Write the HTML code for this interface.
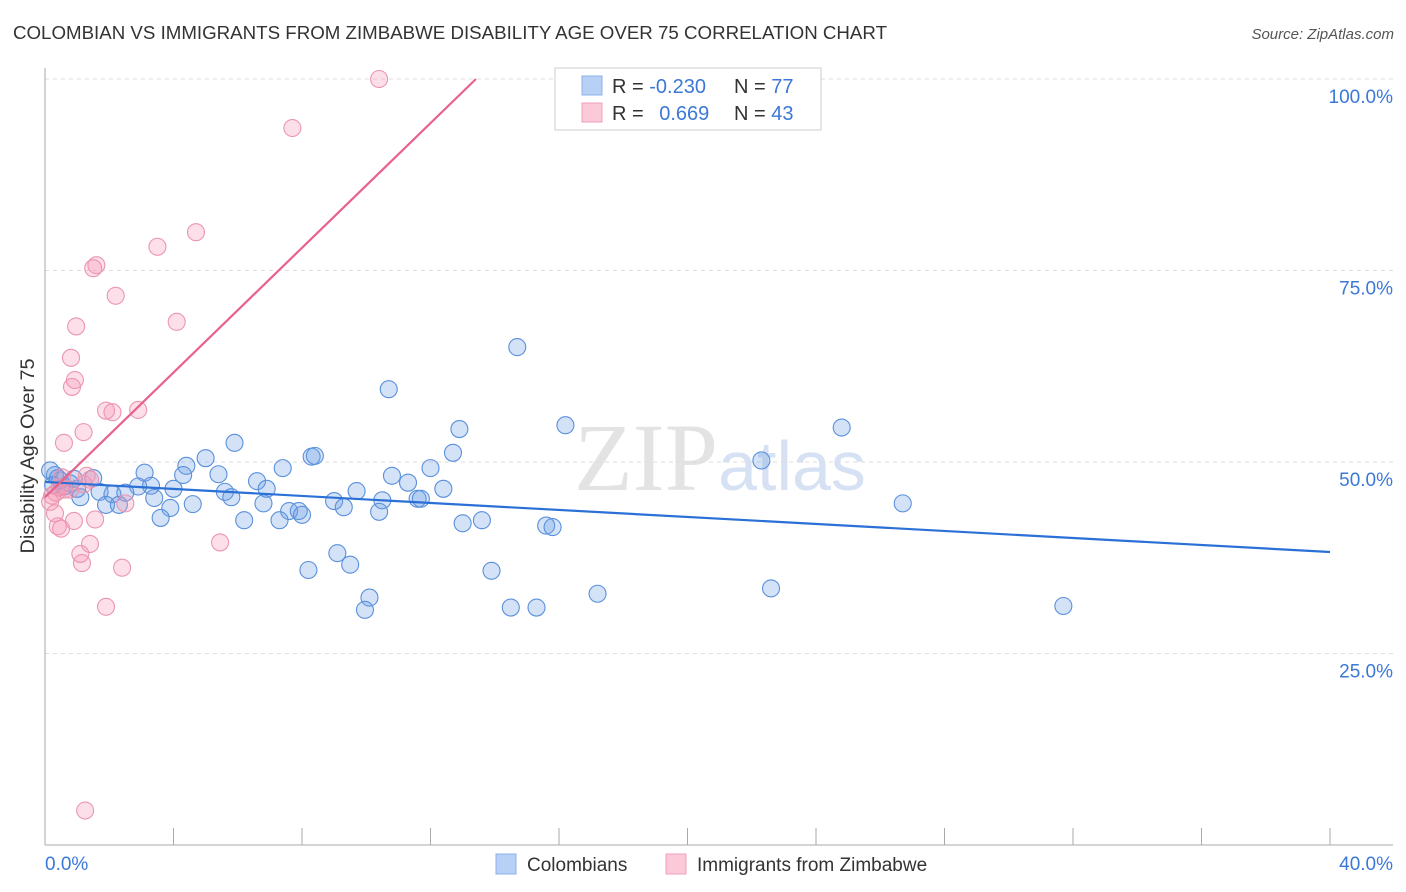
<!DOCTYPE html>
<html><head><meta charset="utf-8"><style>
body{margin:0;background:#fff;font-family:"Liberation Sans",sans-serif}
svg{display:block}
</style></head><body>
<svg id="chart" width="1406" height="892" xmlns="http://www.w3.org/2000/svg">
<text x="13" y="39" font-size="18" fill="#333" textLength="874" lengthAdjust="spacingAndGlyphs">COLOMBIAN VS IMMIGRANTS FROM ZIMBABWE DISABILITY AGE OVER 75 CORRELATION CHART</text>
<text x="1394" y="39" font-size="15" fill="#555" font-style="italic" text-anchor="end">Source: ZipAtlas.com</text>
<text x="720" y="490" font-size="96" text-anchor="middle" fill="#d8d8d8" font-family="Liberation Serif, serif" opacity="0.7">ZIP<tspan fill="#c5d6ee" font-family="Liberation Sans, sans-serif" font-size="70">atlas</tspan></text>
<text transform="translate(34,456) rotate(-90)" font-size="19" fill="#333" text-anchor="middle" textLength="195" lengthAdjust="spacingAndGlyphs">Disability Age Over 75</text>
<g id="grid"></g><g id="axes"></g><g id="pts"></g><g id="lines"></g>
<g>
<rect x="555" y="68" width="266" height="62" fill="#fff" stroke="#ccc"/>
<rect x="582" y="76" width="20" height="19" fill="#b7d0f5" stroke="#8cb0e8"/>
<rect x="582" y="103" width="20" height="19" fill="#fbc9d7" stroke="#f0a0b8"/>
<text x="612" y="93" font-size="20" fill="#333">R = <tspan fill="#3b78d8">-0.230</tspan></text>
<text x="734" y="93" font-size="20" fill="#333">N = <tspan fill="#3b78d8">77</tspan></text>
<text x="612" y="120" font-size="20" fill="#333">R = <tspan fill="#3b78d8" dx="10">0.669</tspan></text>
<text x="734" y="120" font-size="20" fill="#333">N = <tspan fill="#3b78d8">43</tspan></text>
</g>
<g>
<rect x="496" y="854" width="20" height="20" fill="#b7d0f5" stroke="#8cb0e8"/>
<text x="527" y="871" font-size="19" fill="#333">Colombians</text>
<rect x="666" y="854" width="20" height="20" fill="#fbc9d7" stroke="#f0a0b8"/>
<text x="697" y="871" font-size="19" fill="#333">Immigrants from Zimbabwe</text>
</g>
</svg>
<script>
const blueX=[14.7,10.7,16.2,24.8,12.9,5.9,12.7,22.3,8.3,8.4,5.0,4.4,7.4,12.0,3.1,5.4,4.3,10.8,6.6,1.5,3.3,11.3,2.9,4.0,6.9,12.4,9.7,5.6,1.7,2.5,2.1,3.4,5.8,1.1,9.0,10.5,11.6,11.7,26.7,6.8,1.9,2.3,4.6,3.9,9.3,7.6,7.9,10.4,8.0,3.6,6.2,7.3,13.0,13.6,15.6,15.8,9.1,9.5,8.2,13.9,22.6,17.2,10.1,9.96,14.5,15.3,31.7,0.47,0.78,0.31,0.16,0.6,1.0,0.4,0.25,0.9];
const blueY=[65.0,59.5,54.8,54.5,54.3,52.5,51.2,50.2,50.7,50.8,50.5,49.5,49.2,49.2,48.6,48.4,48.3,48.2,47.5,47.9,46.9,47.3,46.8,46.5,46.5,46.5,46.2,46.1,46.1,46.0,45.8,45.3,45.4,45.4,44.9,45.0,45.2,45.2,44.6,44.6,44.4,44.4,44.5,44.0,44.1,43.6,43.6,43.5,43.1,42.7,42.4,42.4,42.0,42.4,41.7,41.5,38.1,36.6,35.9,35.8,33.5,32.8,32.3,30.7,31.0,31.0,31.2,47.6,47.2,48.3,48.9,46.8,46.5,47.9,47.0,47.8];
const pinkX=[10.4,16.5,7.7,3.5,4.7,1.6,1.5,2.2,4.1,0.97,0.81,0.93,0.84,1.9,2.1,2.9,1.2,0.59,1.3,1.2,1.4,0.59,0.47,0.22,0.34,0.16,0.31,0.9,1.56,0.4,0.5,1.4,1.1,1.15,2.4,5.45,1.9,2.5,1.25,0.78,0.53];
const pinkY=[100,100,93.6,78.1,80.0,75.7,75.3,71.7,68.3,67.7,63.6,60.7,59.8,56.7,56.5,56.8,53.9,52.5,48.2,47.1,47.7,46.4,46.7,45.6,46.0,44.8,43.3,42.3,42.5,41.6,41.3,39.3,38.0,36.8,36.2,39.5,31.1,44.6,4.5,46.4,48.0];
const blueLine=[47.4,38.25];
const pinkLine=[45.4,4.07];
const yTicks=[25,50,75,100];
const xTickLabels=["0.0%","40.0%"];
const X=v=>45+v*32.125, Y=v=>845-v*7.66;
const NS="http://www.w3.org/2000/svg";
function mk(t,a,p){const e=document.createElementNS(NS,t);for(const k in a)e.setAttribute(k,a[k]);p.appendChild(e);return e;}
const grid=document.getElementById('grid'),axes=document.getElementById('axes'),pts=document.getElementById('pts'),lines=document.getElementById('lines');
yTicks.forEach(t=>{
 const l=mk('line',{x1:45,x2:1393,y1:Y(t),y2:Y(t),stroke:'#ddd','stroke-dasharray':'4,4'},grid);
 
 
 const tx=mk('text',{x:1393,y:Y(t)+24,'font-size':19,fill:'#3b78d8','text-anchor':'end'},grid);
 tx.textContent=t.toFixed(1)+'%';
 
 
});
let a=mk('line',{x1:45,x2:45,y1:68,y2:845,stroke:'#aaa'},axes);


a=mk('line',{x1:45,x2:1393,y1:845,y2:845,stroke:'#aaa'},axes);


for(let i=0;i<=10;i++){const t=mk('line',{x1:X(i*4),x2:X(i*4),y1:828,y2:845,stroke:'#aaa'},axes);
 
 }
let t0=mk('text',{x:45,y:870,'font-size':19,fill:'#3b78d8'},axes);t0.textContent=xTickLabels[0];


let t1=mk('text',{x:1393,y:870,'font-size':19,fill:'#3b78d8','text-anchor':'end'},axes);t1.textContent=xTickLabels[1];


blueX.forEach((x,i)=>{const c=mk('circle',{cx:X(x),cy:Y(blueY[i]),r:8.5,fill:'rgba(110,160,230,0.3)',stroke:'#5a90dc','stroke-width':1.1},pts);
 
 });
pinkX.forEach((x,i)=>{const c=mk('circle',{cx:X(x),cy:Y(pinkY[i]),r:8.5,fill:'rgba(245,150,180,0.3)',stroke:'#ec96b0','stroke-width':1.1},pts);
 
 });
let bl=mk('line',{x1:X(0),y1:Y(blueLine[0]),x2:X(40),y2:Y(blueLine[1]),stroke:'#2a70d6','stroke-width':2.2},lines);


const xe=(100-pinkLine[0])/pinkLine[1];
let pl=mk('line',{x1:X(0),y1:Y(pinkLine[0]),x2:X(xe),y2:Y(100),stroke:'#e8628c','stroke-width':2.2},lines);


</script>
</body></html>
